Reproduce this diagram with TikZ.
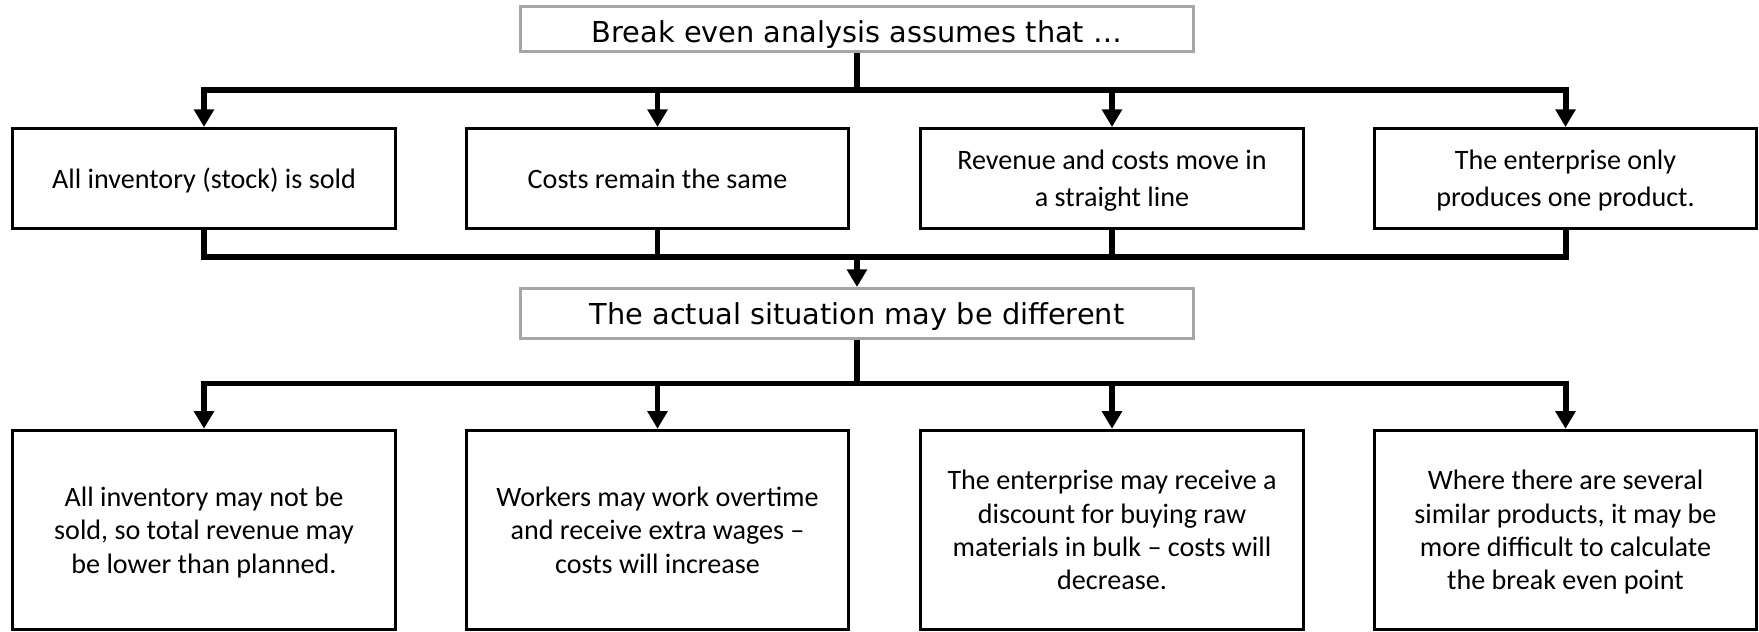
\documentclass[tikz,border=0pt]{standalone}
\usepackage{fontspec}
\setmainfont{Carlito}
\newfontfamily\headfont{DejaVu Sans}
\usetikzlibrary{arrows.meta}
\definecolor{headgray}{HTML}{A6A6A6}

\tikzset{
    headbox/.style={draw=headgray, line width=1.7pt, minimum width=13.46cm,
        minimum height=0.9cm, inner sep=0pt, text depth=0pt,
        font=\headfont\fontsize{16.4}{20}\selectfont},
    pointbox/.style={draw, line width=1.7pt, minimum width=7.66cm,
        minimum height=2cm, inner sep=0pt, align=center, text depth=0pt,
        font=\fontsize{16}{20.8}\selectfont},
    effectbox/.style={pointbox, minimum height=3.99cm,
        font=\fontsize{16}{19}\selectfont},
    bus/.style={line width=3.4pt},
    arr/.style={-{Triangle[width=11pt,length=10pt]}}
}

\begin{document}
\begin{tikzpicture}[x=0.02cm, y=-0.02cm]
    \useasboundingbox (0,0) rectangle (1759,632);
    % headings
    \node[headbox, text height=15pt] (top) at (857,29) {Break even analysis assumes that …};
    \node[headbox, minimum height=1cm] (mid) at (857,313.5) {The actual situation may be different};
    % assumptions
    \node[pointbox] (a1) at (204,178.5) {All inventory (stock) is sold};
    \node[pointbox] (a2) at (657.5,178.5) {Costs remain the same};
    \node[pointbox] (a3) at (1112,178.5) {Revenue and costs move in\\a straight line};
    \node[pointbox] (a4) at (1565.5,178.5) {The enterprise only\\produces one product.};
    % what may happen instead
    \node[effectbox] (b1) at (204,530) {All inventory may not be\\sold, so total revenue may\\be lower than planned.};
    \node[effectbox] (b2) at (657.5,530) {Workers may work overtime\\and receive extra wages –\\costs will increase};
    \node[effectbox] (b3) at (1112,530) {The enterprise may receive a\\discount for buying raw\\materials in bulk – costs will\\decrease.};
    \node[effectbox] (b4) at (1565.5,530) {Where there are several\\similar products, it may be\\more difficult to calculate\\the break even point};
    % bus lines
    \coordinate (bus1) at (857,90);
    \coordinate (bus2) at (857,257);
    \coordinate (bus3) at (857,383.5);
    \draw[bus] (top.south) -- (bus1);
    \foreach \n in {a1,a2,a3,a4}
        \draw[bus,arr] (bus1) -| (\n.north);
    \foreach \n in {a1,a2,a3,a4}
        \draw[bus] (\n.south) |- (bus2);
    \draw[bus,arr] (bus2) -- (mid.north);
    \draw[bus] (mid.south) -- (bus3);
    \foreach \n in {b1,b2,b3,b4}
        \draw[bus,arr] (bus3) -| (\n.north);
\end{tikzpicture}
\end{document}
